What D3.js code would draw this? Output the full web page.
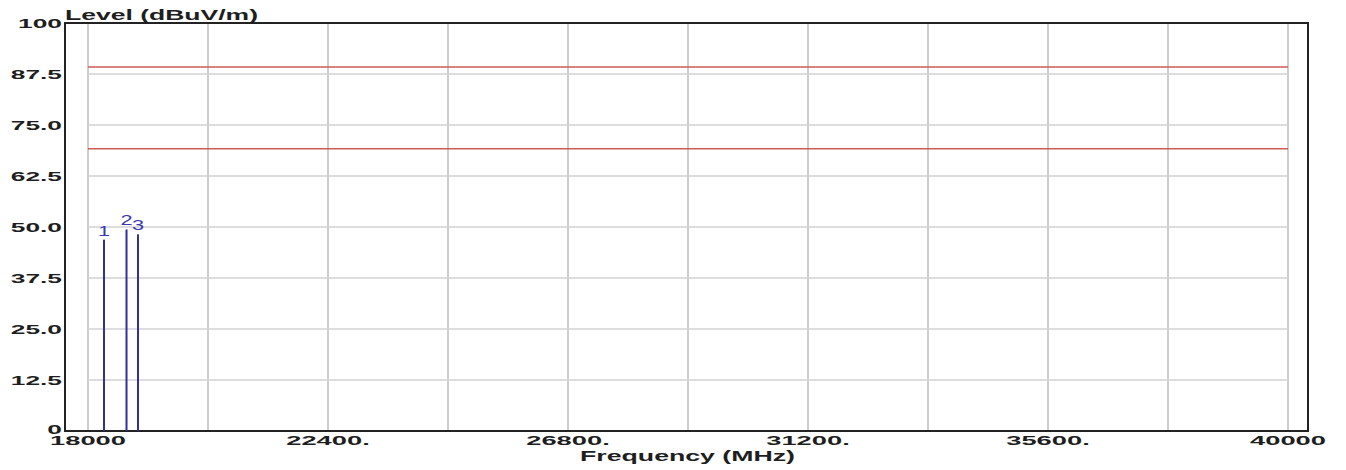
<!DOCTYPE html>
<html>
<head>
<meta charset="utf-8">
<script src="https://cdn.jsdelivr.net/npm/d3@7"></script>
<style>
  html, body { margin: 0; padding: 0; background: #fff; }
  svg { display: block; }
  text { font-family: "Liberation Sans", Arial, sans-serif; }
</style>
</head>
<body>
<svg id="chart" width="1346" height="470"></svg>
<script>
// ---- data ----
const markerIds = ["1", "2", "3"];
const markerFreqs = [18293, 18706, 18917];      // MHz
const markerLevels = [46.9, 49.4, 48.2];        // dBuV/m
const limitLevels = [89.2, 69.2];               // dBuV/m
const yTickValues = [0, 12.5, 25, 37.5, 50, 62.5, 75, 87.5, 100];
const yTickLabels = ["0", "12.5", "25.0", "37.5", "50.0", "62.5", "75.0", "87.5", "100"];
const xGridValues = [18000, 20200, 22400, 24600, 26800, 29000, 31200, 33400, 35600, 37800, 40000];
const xTickValues = [18000, 22400, 26800, 31200, 35600, 40000];
const xTickLabels = ["18000", "22400.", "26800.", "31200.", "35600.", "40000"];
const yTitle = "Level (dBuV/m)";
const xTitle = "Frequency (MHz)";

// ---- layout ----
const svg = d3.select("#chart");
const frame = { left: 65, top: 23, right: 1308, bottom: 431 };
const x = d3.scaleLinear().domain([18000, 40000]).range([88, 1288]);
const y = d3.scaleLinear().domain([0, 100]).range([frame.bottom, frame.top]);

const textColor = "#1e1e1e";

// vertical grid
svg.append("g").selectAll("line").data(xGridValues).join("line")
  .attr("x1", d => x(d)).attr("x2", d => x(d))
  .attr("y1", frame.top).attr("y2", frame.bottom)
  .attr("stroke", "#cdcdcd").attr("stroke-width", 2);

// horizontal grid
svg.append("g").selectAll("line").data(yTickValues.filter(v => v > 0 && v < 100)).join("line")
  .attr("x1", x(18000)).attr("x2", x(40000))
  .attr("y1", d => y(d)).attr("y2", d => y(d))
  .attr("stroke", "#d2d2d2").attr("stroke-width", 1.5);

// limit lines
svg.append("g").selectAll("line").data(limitLevels).join("line")
  .attr("x1", x(18000)).attr("x2", x(40000))
  .attr("y1", d => y(d)).attr("y2", d => y(d))
  .attr("stroke", "#cc5a5a").attr("stroke-width", 1.5);

// frame
svg.append("rect")
  .attr("x", frame.left).attr("y", frame.top)
  .attr("width", frame.right - frame.left).attr("height", frame.bottom - frame.top)
  .attr("fill", "none").attr("stroke", "#222").attr("stroke-width", 2);

// markers
const markers = markerIds.map((id, i) => ({ id, f: markerFreqs[i], v: markerLevels[i] }));
svg.append("g").selectAll("line").data(markers).join("line")
  .attr("x1", d => x(d.f)).attr("x2", d => x(d.f))
  .attr("y1", y(0)).attr("y2", d => y(d.v))
  .attr("stroke", "#2f2f9e").attr("stroke-width", 2);

svg.append("g").selectAll("text").data(markers).join("text")
  .attr("transform", d => `translate(${x(d.f)},${y(d.v) - 4}) scale(1.45,1)`)
  .attr("text-anchor", "middle")
  .attr("font-size", 15)
  .attr("fill", "#3a3ab0")
  .text(d => d.id);

// y tick labels
svg.append("g").selectAll("text").data(yTickValues).join("text")
  .attr("transform", d => `translate(62,${y(d) - (d === 0 ? 2 : 0)}) scale(1.95,1)`)
  .attr("text-anchor", "end")
  .attr("dy", "0.36em")
  .attr("font-size", 13.5)
  .attr("font-weight", "bold")
  .attr("fill", textColor)
  .text((d, i) => yTickLabels[i]);

// x tick labels
svg.append("g").selectAll("text").data(xTickValues).join("text")
  .attr("transform", d => `translate(${x(d)},445) scale(2.1,1)`)
  .attr("text-anchor", "middle")
  .attr("font-size", 13)
  .attr("font-weight", "bold")
  .attr("fill", textColor)
  .text((d, i) => xTickLabels[i]);

// titles
svg.append("text")
  .attr("x", 65).attr("y", 20)
  .attr("font-size", 14).attr("font-weight", "bold")
  .attr("fill", textColor)
  .attr("textLength", 193).attr("lengthAdjust", "spacingAndGlyphs")
  .text(yTitle);

svg.append("text")
  .attr("x", 580).attr("y", 461)
  .attr("font-size", 14).attr("font-weight", "bold")
  .attr("fill", textColor)
  .attr("textLength", 215).attr("lengthAdjust", "spacingAndGlyphs")
  .text(xTitle);
</script>
</body>
</html>
